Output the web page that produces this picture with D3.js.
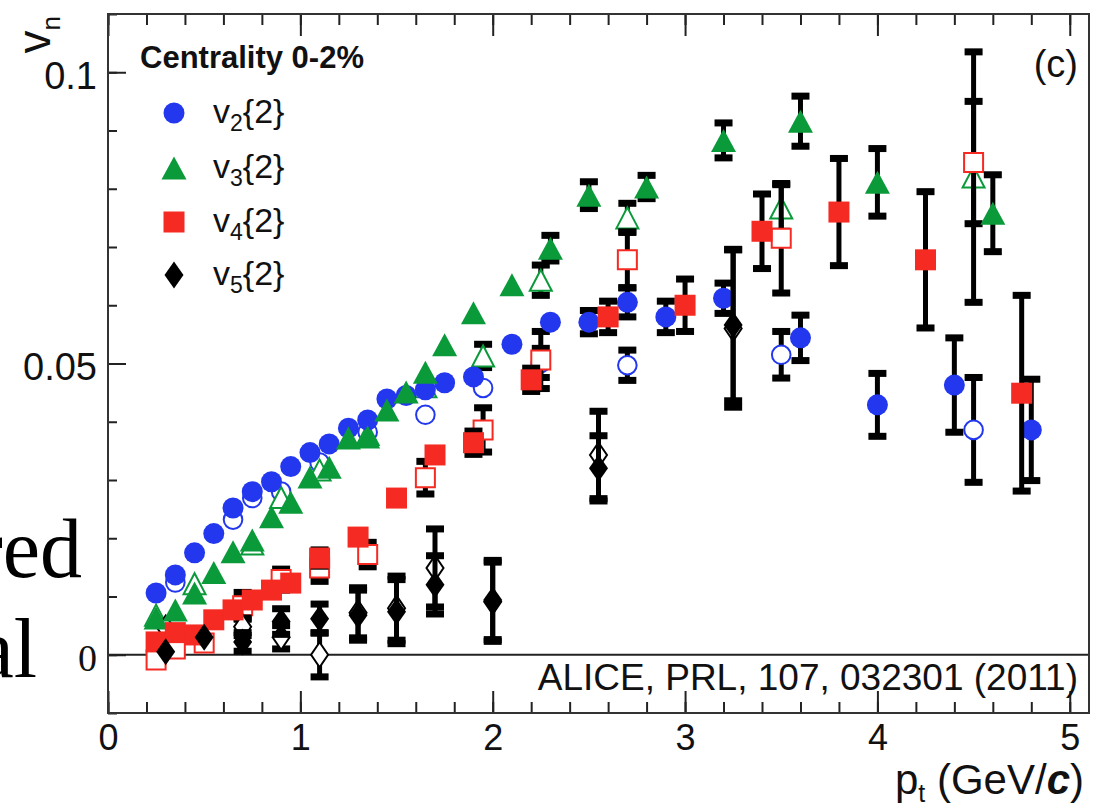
<!DOCTYPE html>
<html>
<head>
<meta charset="utf-8">
<script src="https://cdn.jsdelivr.net/npm/d3@7"></script>
<style>
  html, body { margin: 0; padding: 0; background: #fff; }
  svg { display: block; }
  text { font-family: "Liberation Sans", Arial, Helvetica, sans-serif; fill: #111; }
</style>
</head>
<body>
<svg id="chart" width="1099" height="803"></svg>
<script>
// ---- data: v_n{2} vs p_t, centrality 0-2% ----
// filled symbols
const v2Pt  = [0.25,0.35,0.45,0.55,0.65,0.75,0.85,0.95,1.05,1.15,1.25,1.35,1.45,1.55,1.65,1.75,1.9,2.1,2.3,2.5,2.7,2.9,3.2,3.6,4.0,4.4,4.8];
const v2Val = [0.0106,0.0137,0.0175,0.0208,0.0252,0.0280,0.0297,0.0323,0.0347,0.0362,0.0389,0.0403,0.0439,0.0445,0.0455,0.0467,0.0477,0.0533,0.0571,0.0571,0.0605,0.0580,0.0612,0.0544,0.0429,0.0463,0.0386];
const v2Err = [0.0003,0.0003,0.0003,0.0003,0.0003,0.0003,0.0003,0.0003,0.0003,0.0003,0.0004,0.0004,0.0004,0.0004,0.0005,0.0005,0.0006,0.0008,0.0010,0.0020,0.0025,0.0027,0.0026,0.0039,0.0054,0.0081,0.0087];

const v3Pt  = [0.25,0.35,0.45,0.55,0.65,0.75,0.85,0.95,1.05,1.15,1.25,1.35,1.45,1.55,1.65,1.75,1.9,2.1,2.3,2.5,2.8,3.2,3.6,4.0,4.6];
const v3Val = [0.0063,0.0077,0.0106,0.0141,0.0177,0.0197,0.0237,0.0262,0.0305,0.0322,0.0372,0.0374,0.0420,0.0451,0.0485,0.0532,0.0587,0.0635,0.0698,0.0789,0.0803,0.0883,0.0916,0.0811,0.0758];
const v3Err = [0.0003,0.0003,0.0003,0.0003,0.0003,0.0003,0.0004,0.0004,0.0004,0.0004,0.0005,0.0005,0.0005,0.0006,0.0006,0.0007,0.0008,0.0010,0.0022,0.0023,0.0020,0.0030,0.0043,0.0058,0.0066];

const v4Pt  = [0.25,0.35,0.45,0.55,0.65,0.75,0.85,0.95,1.1,1.3,1.5,1.7,1.9,2.2,2.6,3.0,3.4,3.8,4.25,4.75];
const v4Val = [0.0022,0.0038,0.0034,0.0060,0.0077,0.0094,0.0111,0.0123,0.0166,0.0202,0.0269,0.0343,0.0364,0.0472,0.0580,0.0600,0.0727,0.0760,0.0678,0.0449];
const v4Err = [0.0005,0.0005,0.0005,0.0006,0.0008,0.0009,0.0010,0.0011,0.0014,0.0011,0.0012,0.0012,0.0020,0.0020,0.0027,0.0045,0.0064,0.0092,0.0117,0.0168];

const v5Pt  = [0.3,0.5,0.7,0.9,1.1,1.3,1.5,1.7,2.0,2.55,3.25];
const v5Val = [0.0005,0.0030,0.0022,0.0057,0.0062,0.0068,0.0074,0.0120,0.0094,0.0320,0.0566];
const v5Err = [0.0010,0.0012,0.0016,0.0022,0.0025,0.0043,0.0055,0.0050,0.0068,0.0056,0.0130];

// open symbols (|Δη| gap)
const v2GapPt  = [0.35,0.65,0.75,0.9,1.1,1.35,1.65,1.95,2.25,2.7,3.5,4.5];
const v2GapVal = [0.0124,0.0232,0.0269,0.0280,0.0330,0.0382,0.0412,0.0458,0.0501,0.0497,0.0515,0.0386];
const v2GapErr = [0.0005,0.0006,0.0007,0.0008,0.0010,0.0010,0.0010,0.0012,0.0025,0.0026,0.0040,0.0090];

const v3GapPt  = [0.25,0.45,0.75,0.9,1.1,1.35,1.65,1.95,2.25,2.7,3.5,4.5];
const v3GapVal = [0.0068,0.0122,0.0190,0.0270,0.0317,0.0378,0.0460,0.0513,0.0643,0.0750,0.0767,0.0820];
const v3GapErr = [0.0005,0.0006,0.0008,0.0010,0.0012,0.0012,0.0012,0.0020,0.0026,0.0025,0.0040,0.0215];

const v4GapPt  = [0.25,0.35,0.5,0.7,0.9,1.1,1.35,1.65,1.95,2.25,2.7,3.5,4.5];
const v4GapVal = [-0.0009,0.0010,0.0020,0.0084,0.0129,0.0149,0.0172,0.0304,0.0386,0.0506,0.0678,0.0715,0.0845];
const v4GapErr = [0.0006,0.0007,0.0008,0.0023,0.0018,0.0023,0.0021,0.0028,0.0038,0.0049,0.0048,0.0094,0.0105];

const v5GapPt  = [0.3,0.7,0.9,1.1,1.3,1.5,1.7,2.0,2.55,3.25];
const v5GapVal = [0.0046,0.0048,0.0030,0.0000,0.0072,0.0080,0.0149,0.0091,0.0343,0.0560];
const v5GapErr = [0.0012,0.0015,0.0020,0.0038,0.0043,0.0055,0.0067,0.0068,0.0075,0.0135];

// axis ticks
const xMajorTicks = [0, 1, 2, 3, 4, 5];
const xTickLabels = ["0", "1", "2", "3", "4", "5"];
const xMinorTicks = d3.range(0, 26).map(i => i * 0.2);
const yMajorTicks = [0, 0.05, 0.1];
const yTickLabels = ["0", "0.05", "0.1"];
const yMinorTicks = d3.range(-1, 12).map(i => i * 0.01);

const legendLabels = ["2", "3", "4", "5"];

// ---- drawing ----
const BLUE = "#2338ee", GREEN = "#0a9a3a", RED = "#f52a22", BLACK = "#000";
const frame = { left: 108, right: 1089, top: 14, bottom: 713 };

const svg = d3.select("#chart");
const x = d3.scaleLinear().domain([0, 5.1]).range([frame.left, frame.right]);
const y = d3.scaleLinear().domain([-0.01, 0.11]).range([frame.bottom, frame.top]);

// marker outlines, centred on (0,0)
function shapePath(shape, open) {
  const p = d3.path();
  if (shape === "circle") {
    const r = open ? 9.3 : 10.5;
    p.arc(0, 0, r, 0, 2 * Math.PI); p.closePath();
  } else if (shape === "square") {
    const h = open ? 9.5 : 10.5;
    p.rect(-h, -h, 2 * h, 2 * h);
  } else if (shape === "triangle") {
    const w = open ? 11 : 12.5, h = open ? 10.5 : 11.5;
    p.moveTo(-w, h); p.lineTo(w, h); p.lineTo(0, -h); p.closePath();
  } else {
    const w = open ? 8.5 : 9.5, h = open ? 12.5 : 13.5;
    p.moveTo(0, -h); p.lineTo(w, 0); p.lineTo(0, h); p.lineTo(-w, 0); p.closePath();
  }
  return p.toString();
}

svg.append("defs").append("clipPath").attr("id", "plotClip")
  .append("rect")
  .attr("x", frame.left).attr("y", frame.top)
  .attr("width", frame.right - frame.left).attr("height", frame.bottom - frame.top);

// slide text sitting to the left of the figure
svg.append("text").attr("x", 82).attr("y", 577).attr("text-anchor", "end")
  .style("font-family", "'Liberation Serif', 'Times New Roman', serif")
  .style("font-size", "84px").style("fill", "#000").text("red");
svg.append("text").attr("x", 37).attr("y", 677).attr("text-anchor", "end")
  .style("font-family", "'Liberation Serif', 'Times New Roman', serif")
  .style("font-size", "84px").style("fill", "#000").text("al");

// zero line
svg.append("line")
  .attr("x1", frame.left).attr("x2", frame.right)
  .attr("y1", y(0)).attr("y2", y(0))
  .attr("stroke", "#222").attr("stroke-width", 2);

// axes
function styleAxis(g) {
  g.select(".domain").remove();
  g.selectAll(".tick line").attr("stroke", "#222").attr("stroke-width", 2);
}

svg.append("g").attr("transform", `translate(0,${frame.bottom})`)
  .call(d3.axisBottom(x).tickValues(xMinorTicks).tickSize(-11).tickFormat(""))
  .call(styleAxis);
svg.append("g").attr("transform", `translate(0,${frame.bottom})`)
  .call(d3.axisBottom(x).tickValues(xMajorTicks).tickSize(-22).tickPadding(11)
    .tickFormat((d, i) => xTickLabels[i]))
  .call(styleAxis)
  .call(g => g.selectAll("text").style("font-size", "36px").style("fill", "#111")
    .style("font-family", "'Liberation Sans', Arial, sans-serif"));

svg.append("g").attr("transform", `translate(0,${frame.top})`)
  .call(d3.axisTop(x).tickValues(xMinorTicks).tickSize(-11).tickFormat(""))
  .call(styleAxis);
svg.append("g").attr("transform", `translate(0,${frame.top})`)
  .call(d3.axisTop(x).tickValues(xMajorTicks).tickSize(-22).tickFormat(""))
  .call(styleAxis);

svg.append("g").attr("transform", `translate(${frame.left},0)`)
  .call(d3.axisLeft(y).tickValues(yMinorTicks).tickSize(-9).tickFormat(""))
  .call(styleAxis);
svg.append("g").attr("transform", `translate(${frame.left},0)`)
  .call(d3.axisLeft(y).tickValues(yMajorTicks).tickSize(-18).tickPadding(11)
    .tickFormat((d, i) => yTickLabels[i]))
  .call(styleAxis)
  .call(g => g.selectAll("text").style("font-size", "38px").style("fill", "#111")
    .attr("dy", "0.42em")
    .style("font-family", (d) => d === 0 ? "'Liberation Serif', 'Times New Roman', serif"
                                          : "'Liberation Sans', Arial, sans-serif"));

// frame
svg.append("rect")
  .attr("x", frame.left).attr("y", frame.top)
  .attr("width", frame.right - frame.left).attr("height", frame.bottom - frame.top)
  .attr("fill", "none").attr("stroke", "#333").attr("stroke-width", 2);

// data series: open symbols first, filled on top
const series = [
  { pt: v2GapPt, val: v2GapVal, err: v2GapErr, shape: "circle",   color: BLUE,  open: true },
  { pt: v3GapPt, val: v3GapVal, err: v3GapErr, shape: "triangle", color: GREEN, open: true },
  { pt: v4GapPt, val: v4GapVal, err: v4GapErr, shape: "square",   color: RED,   open: true },
  { pt: v5GapPt, val: v5GapVal, err: v5GapErr, shape: "diamond",  color: BLACK, open: true },
  { pt: v2Pt, val: v2Val, err: v2Err, shape: "circle",   color: BLUE,  open: false },
  { pt: v3Pt, val: v3Val, err: v3Err, shape: "triangle", color: GREEN, open: false },
  { pt: v4Pt, val: v4Val, err: v4Err, shape: "square",   color: RED,   open: false },
  { pt: v5Pt, val: v5Val, err: v5Err, shape: "diamond",  color: BLACK, open: false }
];

const plot = svg.append("g").attr("clip-path", "url(#plotClip)");

series.forEach(s => {
  const pts = s.pt.map((p, i) => ({ p, v: s.val[i], e: s.err[i] }));
  const g = plot.append("g");

  // error bars only where they reach beyond the marker
  const bars = g.selectAll("g.bar").data(pts.filter(d => y(d.v - d.e) - y(d.v + d.e) > 14))
    .join("g").attr("class", "bar");
  bars.append("line")
    .attr("x1", d => x(d.p)).attr("x2", d => x(d.p))
    .attr("y1", d => y(d.v + d.e)).attr("y2", d => y(d.v - d.e))
    .attr("stroke", "#000").attr("stroke-width", 5);
  [1, -1].forEach(sign => {
    bars.append("rect")
      .attr("x", d => x(d.p) - 9).attr("y", d => y(d.v + sign * d.e) - 3.5)
      .attr("width", 18).attr("height", 7).attr("fill", "#000");
  });

  g.selectAll("path.mk").data(pts).join("path").attr("class", "mk")
    .attr("transform", d => `translate(${x(d.p)},${y(d.v)})`)
    .attr("d", shapePath(s.shape, s.open))
    .attr("fill", s.open ? "#fff" : s.color)
    .attr("stroke", s.open ? s.color : "none")
    .attr("stroke-width", s.open ? 2 : 0);
});

// legend
const legend = svg.append("g");
legend.append("text").attr("x", 140).attr("y", 68)
  .style("font-size", "31px").style("font-weight", "bold").text("Centrality 0-2%");
const legendShapes = [["circle", BLUE], ["triangle", GREEN], ["square", RED], ["diamond", BLACK]];
const legendRowY = [113, 168, 222, 275];
legendShapes.forEach(([shape, color], i) => {
  legend.append("path")
    .attr("transform", `translate(174,${legendRowY[i]})`)
    .attr("d", shapePath(shape, false)).attr("fill", color);
  const t = legend.append("text").attr("x", 213).attr("y", legendRowY[i] + 10)
    .style("font-size", "34px");
  t.append("tspan").text("v");
  t.append("tspan").attr("dy", 8).style("font-size", "23px").text(legendLabels[i]);
  t.append("tspan").attr("dy", -8).text("{2}");
});

// panel tag and reference
svg.append("text").attr("x", 1078).attr("y", 77).attr("text-anchor", "end")
  .style("font-size", "38px").text("(c)");
svg.append("text").attr("x", 1078).attr("y", 690).attr("text-anchor", "end")
  .style("font-size", "37px").text("ALICE, PRL, 107, 032301 (2011)");

// axis titles
const yTitle = svg.append("text")
  .attr("transform", "translate(50,16) rotate(-90)")
  .attr("text-anchor", "end").style("font-size", "46px");
yTitle.append("tspan").text("v");
yTitle.append("tspan").attr("dy", 10).style("font-size", "26px").text("n");

const xTitle = svg.append("text").attr("x", 1084).attr("y", 794)
  .attr("text-anchor", "end").style("font-size", "42px");
xTitle.append("tspan").text("p");
xTitle.append("tspan").attr("dy", 8).style("font-size", "25px").text("t");
xTitle.append("tspan").attr("dy", -8).text(" (GeV/");
xTitle.append("tspan").style("font-weight", "bold").style("font-style", "italic").text("c");
xTitle.append("tspan").text(")");
</script>
</body>
</html>
